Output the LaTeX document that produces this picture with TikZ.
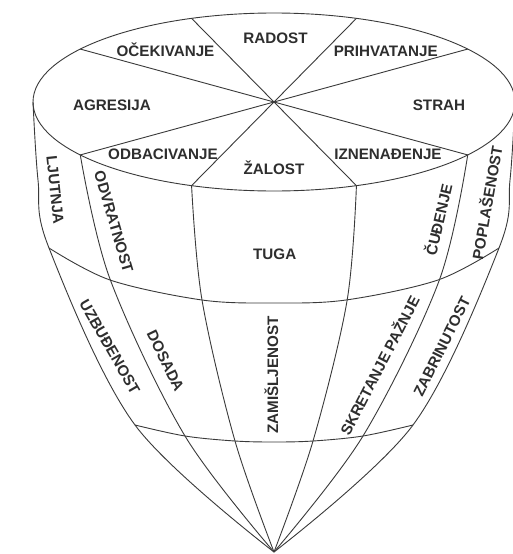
\documentclass[tikz,border=0pt]{standalone}
\usepackage{fontspec}
\setmainfont{Liberation Sans}
\definecolor{ln}{HTML}{3A3A3A}
\definecolor{txt}{HTML}{2E2E2E}
\begin{document}
\begin{tikzpicture}[x=1pt,y=-1pt]
\tikzset{
  lbl/.style={font=\bfseries\fontsize{15.2}{16}\selectfont, text=txt, inner sep=0pt, text height=11pt, text depth=0pt},
  edge/.style={draw=ln, line width=0.9pt, line join=round},
  crv/.style={edge, smooth, tension=0.55}
}
\useasboundingbox[fill=white] (0,0) rectangle (512,554);
% top ellipse and spokes
\coordinate (C) at (274,102);
\coordinate (ap) at (274,552);
\foreach \n/\t in {a/36.5,b/70,c/110,d/143.5,e/-143.5,f/-110,g/-70,h/-36.5}
  \coordinate (p\n) at ({274+241*cos(\t)},{102-89*sin(\t)});
\coordinate (pl) at (33,102);
\coordinate (pr) at (515,102);
\draw[edge] (C) ellipse [x radius=241pt, y radius=89pt];
\draw[edge] (pa) -- (pe);
\draw[edge] (pb) -- (pf);
\draw[edge] (pc) -- (pg);
\draw[edge] (pd) -- (ph);
% meridians
\draw[crv] plot coordinates {(pl) (38,180) (49,248) (135,425) (ap)};
\draw[crv] plot coordinates {(pe) (110,279) (185,436) (ap)};
\draw[crv] plot coordinates {(pf) (202,300) (235,441) (ap)};
\draw[crv] plot coordinates {(pg) (347,301) (313,441) (ap)};
\draw[crv] plot coordinates {(ph) (439,281) (363,436) (ap)};
\draw[crv] plot coordinates {(pr) (510,180) (499,248) (413,425) (ap)};
% latitudes
\draw[crv] plot coordinates {(49,248) (110,280) (202,300) (274,303) (346,300) (438,280) (499,248)};
\draw[crv] plot coordinates {(135,425) (185,436) (235,441) (274,442) (313,441) (363,436) (413,425)};
% top labels
\node[lbl] (radost) at (275.5,37.9) {RADOST};
\node[lbl] (ocek) at (165.5,50.6) {OČEKIVANJE};
\node[lbl] (prihv) at (385.7,50.6) {PRIHVATANJE};
\node[lbl] (agres) at (112,104.6) {AGRESIJA};
\node[lbl] (strah) at (439,104.6) {STRAH};
\node[lbl] (odbac) at (163,153.9) {ODBACIVANJE};
\node[lbl] (zalost) at (274,168.5) {ŽALOST};
\node[lbl] (iznen) at (388,153.9) {IZNENAĐENJE};
% cone labels
\node[lbl] (tuga) at (274.7,254) {TUGA};
\node[lbl, rotate=-84] (ljut) at (55.5,190) {LJUTNJA};
\node[lbl, rotate=-73.7] (odvr) at (114,221.7) {ODVRATNOST};
\node[lbl, rotate=-60] (uzbu) at (110,346.7) {UZBUĐENOST};
\node[lbl, rotate=-64] (dosada) at (165.8,360.8) {DOSADA};
\node[lbl, rotate=90] (zamis) at (272.5,375) {ZAMIŠLJENOST};
\node[lbl, rotate=62.6] (skret) at (380,365.7) {SKRETANJE PAŽNJE};
\node[lbl, rotate=63.4] (zabr) at (441.7,346.7) {ZABRINUTOST};
\node[lbl, rotate=77] (cudj) at (439,220) {ČUĐENJE};
\node[lbl, rotate=80] (popl) at (487.3,202.5) {POPLAŠENOST};
\end{tikzpicture}
\end{document}
